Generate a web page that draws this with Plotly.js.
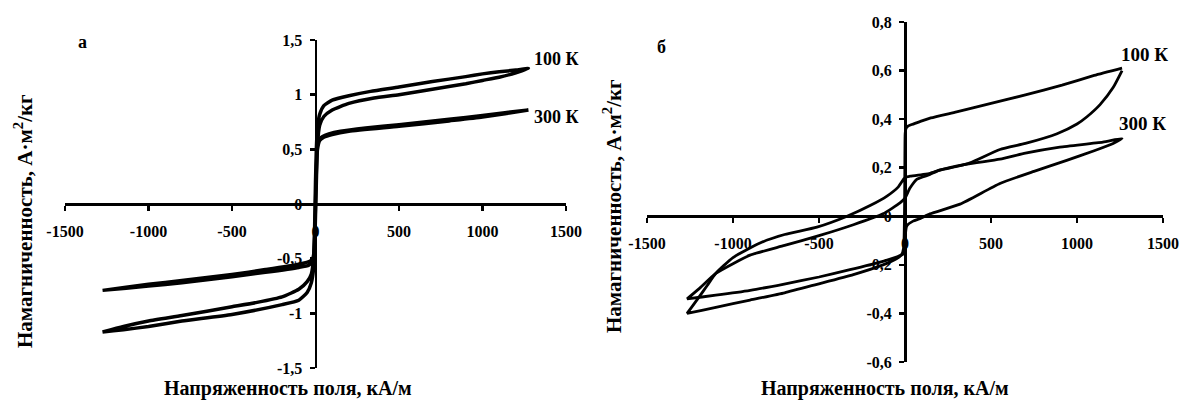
<!DOCTYPE html>
<html>
<head>
<meta charset="utf-8">
<script src="https://cdn.plot.ly/plotly-3.0.1.min.js"></script>
<style>html,body{margin:0;padding:0;background:#fff;}#chart{width:1181px;height:400px;}</style>
</head>
<body>
<div id="chart"></div>
<script>
// ---------- Tick labels ----------
const fieldTicks = [-1500, -1000, -500, 0, 500, 1000, 1500];
const fieldTickText = ['-1500', '-1000', '-500', '0', '500', '1000', '1500'];
const magTicksA = [-1.5, -1, -0.5, 0, 0.5, 1, 1.5];
const magTickTextA = ['-1,5', '-1', '-0,5', '0', '0,5', '1', '1,5'];
const magTicksB = [-0.6, -0.4, -0.2, 0, 0.2, 0.4, 0.6, 0.8];
const magTickTextB = ['-0,6', '-0,4', '-0,2', '0', '0,2', '0,4', '0,6', '0,8'];

// ---------- Panel а, 100 K ----------
const a100DescH = [1275, 1200, 1100, 1000, 900, 700, 500, 330, 200, 100, 50, 25, 12, 5, 0, -5, -12, -25, -50, -100, -200, -350, -500, -800, -1000, -1150, -1275];
const a100DescM = [1.24, 1.225, 1.21, 1.19, 1.165, 1.12, 1.07, 1.03, 0.99, 0.95, 0.9, 0.82, 0.7, 0.5, 0.2, -0.2, -0.5, -0.64, -0.71, -0.78, -0.85, -0.9, -0.94, -1.02, -1.07, -1.12, -1.17];
const a100AscH = [-1275, -1150, -1000, -800, -500, -200, -100, -50, -25, -12, -5, 0, 5, 12, 25, 50, 100, 200, 350, 500, 700, 900, 1000, 1100, 1200, 1275];
const a100AscM = [-1.17, -1.15, -1.12, -1.07, -1.01, -0.92, -0.88, -0.81, -0.72, -0.6, -0.4, -0.1, 0.2, 0.55, 0.72, 0.8, 0.86, 0.92, 0.97, 1.0, 1.05, 1.1, 1.13, 1.16, 1.2, 1.24];

// ---------- Panel а, 300 K ----------
const a300DescH = [1275, 1000, 800, 500, 300, 150, 80, 40, 20, 10, 5, 0, -5, -12, -30, -100, -300, -500, -800, -1000, -1275];
const a300DescM = [0.86, 0.81, 0.775, 0.725, 0.695, 0.665, 0.64, 0.615, 0.59, 0.5, 0.3, 0.0, -0.3, -0.48, -0.52, -0.55, -0.6, -0.645, -0.7, -0.735, -0.79];
const a300AscH = [-1275, -1000, -800, -500, -300, -100, -40, -20, -10, -5, 0, 5, 12, 25, 50, 100, 200, 500, 800, 1000, 1275];
const a300AscM = [-0.79, -0.75, -0.72, -0.665, -0.625, -0.58, -0.56, -0.53, -0.45, -0.3, 0.0, 0.3, 0.5, 0.58, 0.61, 0.635, 0.665, 0.71, 0.76, 0.795, 0.86];

// ---------- Panel б, 100 K ----------
const b100DescH = [1262, 1100, 913, 700, 500, 300, 150, 87, 40, 15, 5, 1, -1, -3, -8, -20, -50, -128, -300, -512, -700, -901, -1100, -1267];
const b100DescM = [0.61, 0.58, 0.54, 0.5, 0.465, 0.43, 0.405, 0.39, 0.378, 0.37, 0.36, 0.34, 0.2, 0.0, -0.13, -0.158, -0.175, -0.2, -0.24, -0.28, -0.315, -0.345, -0.375, -0.40];
const b100AscH = [-1267, -1200, -1150, -1100, -1000, -843, -700, -512, -337, -200, -105, -40, 0, 30, 100, 145, 203, 300, 378, 552, 700, 884, 1000, 1058, 1134, 1210, 1262];
const b100AscM = [-0.40, -0.335, -0.285, -0.235, -0.17, -0.11, -0.075, -0.045, 0.0, 0.045, 0.083, 0.12, 0.16, 0.165, 0.172, 0.177, 0.19, 0.205, 0.22, 0.275, 0.30, 0.34, 0.38, 0.41, 0.46, 0.53, 0.60];

// ---------- Panel б, 300 K ----------
const b300DescH = [1262, 1150, 900, 700, 552, 360, 200, 145, 70, 29, 0, -29, -128, -300, -500, -700, -901, -1000, -1100, -1200, -1267];
const b300DescM = [0.32, 0.305, 0.285, 0.26, 0.235, 0.215, 0.19, 0.172, 0.153, 0.116, 0.075, 0.055, 0.01, -0.035, -0.08, -0.12, -0.16, -0.195, -0.235, -0.30, -0.34];
const b300AscH = [-1267, -1100, -900, -709, -500, -320, -150, -50, -10, 0, 3, 10, 47, 87, 145, 320, 552, 750, 940, 1100, 1210, 1262];
const b300AscM = [-0.34, -0.325, -0.305, -0.28, -0.25, -0.22, -0.19, -0.168, -0.155, -0.12, -0.07, -0.04, -0.02, -0.01, 0.01, 0.05, 0.135, 0.185, 0.23, 0.27, 0.30, 0.32];

// ---------- Texts ----------
const xTitle = 'Напряженность поля, кА/м';
const yTitle = 'Намагниченность, А·м<sup>2</sup>/кг';
const panelLabels = ['а', 'б'];
const seriesLabels = ['100 К', '300 К'];

// ---------- Geometry helpers (pixels -> paper) ----------
const W = 1181, H = 400;
const px = v => v / W;
const py = v => 1 - v / H;

const serif = 'Liberation Serif, Times New Roman, serif';
const tickFont = {family: serif, size: 16, color: '#000', weight: 'bold'};

function loop(h1, m1, h2, m2, xa, ya, w) {
  return {
    x: h1.concat(h2), y: m1.concat(m2), xaxis: xa, yaxis: ya,
    type: 'scatter', mode: 'lines', hoverinfo: 'skip',
    line: {color: '#000', width: w, shape: 'spline', smoothing: 0.5}
  };
}

const traces = [
  loop(a100DescH, a100DescM, a100AscH, a100AscM, 'x', 'y', 3.5),
  loop(a300DescH, a300DescM, a300AscH, a300AscM, 'x', 'y', 3.5),
  loop(b100DescH, b100DescM, b100AscH, b100AscM, 'x2', 'y2', 2.8),
  loop(b300DescH, b300DescM, b300AscH, b300AscM, 'x2', 'y2', 2.8)
];

const aX = [65, 566], aY = [40, 368];
const bX = [647, 1163], bY = [22, 362];

function xAxis(dom, yPos) {
  return {
    domain: [px(dom[0]), px(dom[1])], range: [-1500, 1500], anchor: 'free', position: yPos,
    showline: true, linewidth: 2.5, linecolor: '#000', ticks: 'outside', ticklen: 5, tickwidth: 2.5,
    tickcolor: '#000', tickvals: fieldTicks, ticktext: fieldTickText, showgrid: false,
    zeroline: false, tickfont: tickFont, ticklabelstandoff: 7, layer: 'below traces', fixedrange: true
  };
}
function yAxis(dom, range, vals, text, xPos) {
  return {
    domain: [py(dom[1]), py(dom[0])], range: range, anchor: 'free', position: xPos,
    showline: true, linewidth: 2.5, linecolor: '#000', ticks: 'outside', ticklen: 5, tickwidth: 2.5,
    tickcolor: '#000', tickvals: vals, ticktext: text, showgrid: false, zeroline: false,
    tickfont: tickFont, ticklabelstandoff: 4, layer: 'below traces', fixedrange: true
  };
}

const aZeroY = py(aY[0] + (aY[1] - aY[0]) * 0.5);
const bZeroY = py(bY[0] + (bY[1] - bY[0]) * (0.8 / 1.4));
const aZeroX = px((aX[0] + aX[1]) / 2);
const bZeroX = px((bX[0] + bX[1]) / 2);

function ann(text, x, y, size, angle) {
  return {text: text, x: px(x), y: py(y), xref: 'paper', yref: 'paper', showarrow: false,
    xanchor: 'center', yanchor: 'middle', textangle: angle || 0,
    font: {family: serif, size: size, color: '#000', weight: 'bold'}};
}

const layout = {
  width: W, height: H, margin: {l: 0, r: 0, t: 0, b: 0},
  paper_bgcolor: '#fff', plot_bgcolor: '#fff', showlegend: false,
  xaxis: xAxis(aX, aZeroY),
  yaxis: yAxis(aY, [-1.5, 1.5], magTicksA, magTickTextA, aZeroX),
  xaxis2: xAxis(bX, bZeroY),
  yaxis2: yAxis(bY, [-0.6, 0.8], magTicksB, magTickTextB, bZeroX),
  annotations: [
    ann(xTitle, 288, 388, 20),
    ann(xTitle, 885, 388, 20),
    ann(yTitle, 23, 221, 21, -90),
    ann(yTitle, 612, 206, 21, -90),
    ann(panelLabels[0], 82, 42, 18),
    ann(panelLabels[1], 661, 47, 18),
    ann(seriesLabels[0], 556, 59, 18),
    ann(seriesLabels[1], 556, 117, 18),
    ann(seriesLabels[0], 1144, 55, 19),
    ann(seriesLabels[1], 1142, 123, 19)
  ]
};

Plotly.newPlot('chart', traces, layout, {staticPlot: true, displayModeBar: false});
</script>
</body>
</html>
